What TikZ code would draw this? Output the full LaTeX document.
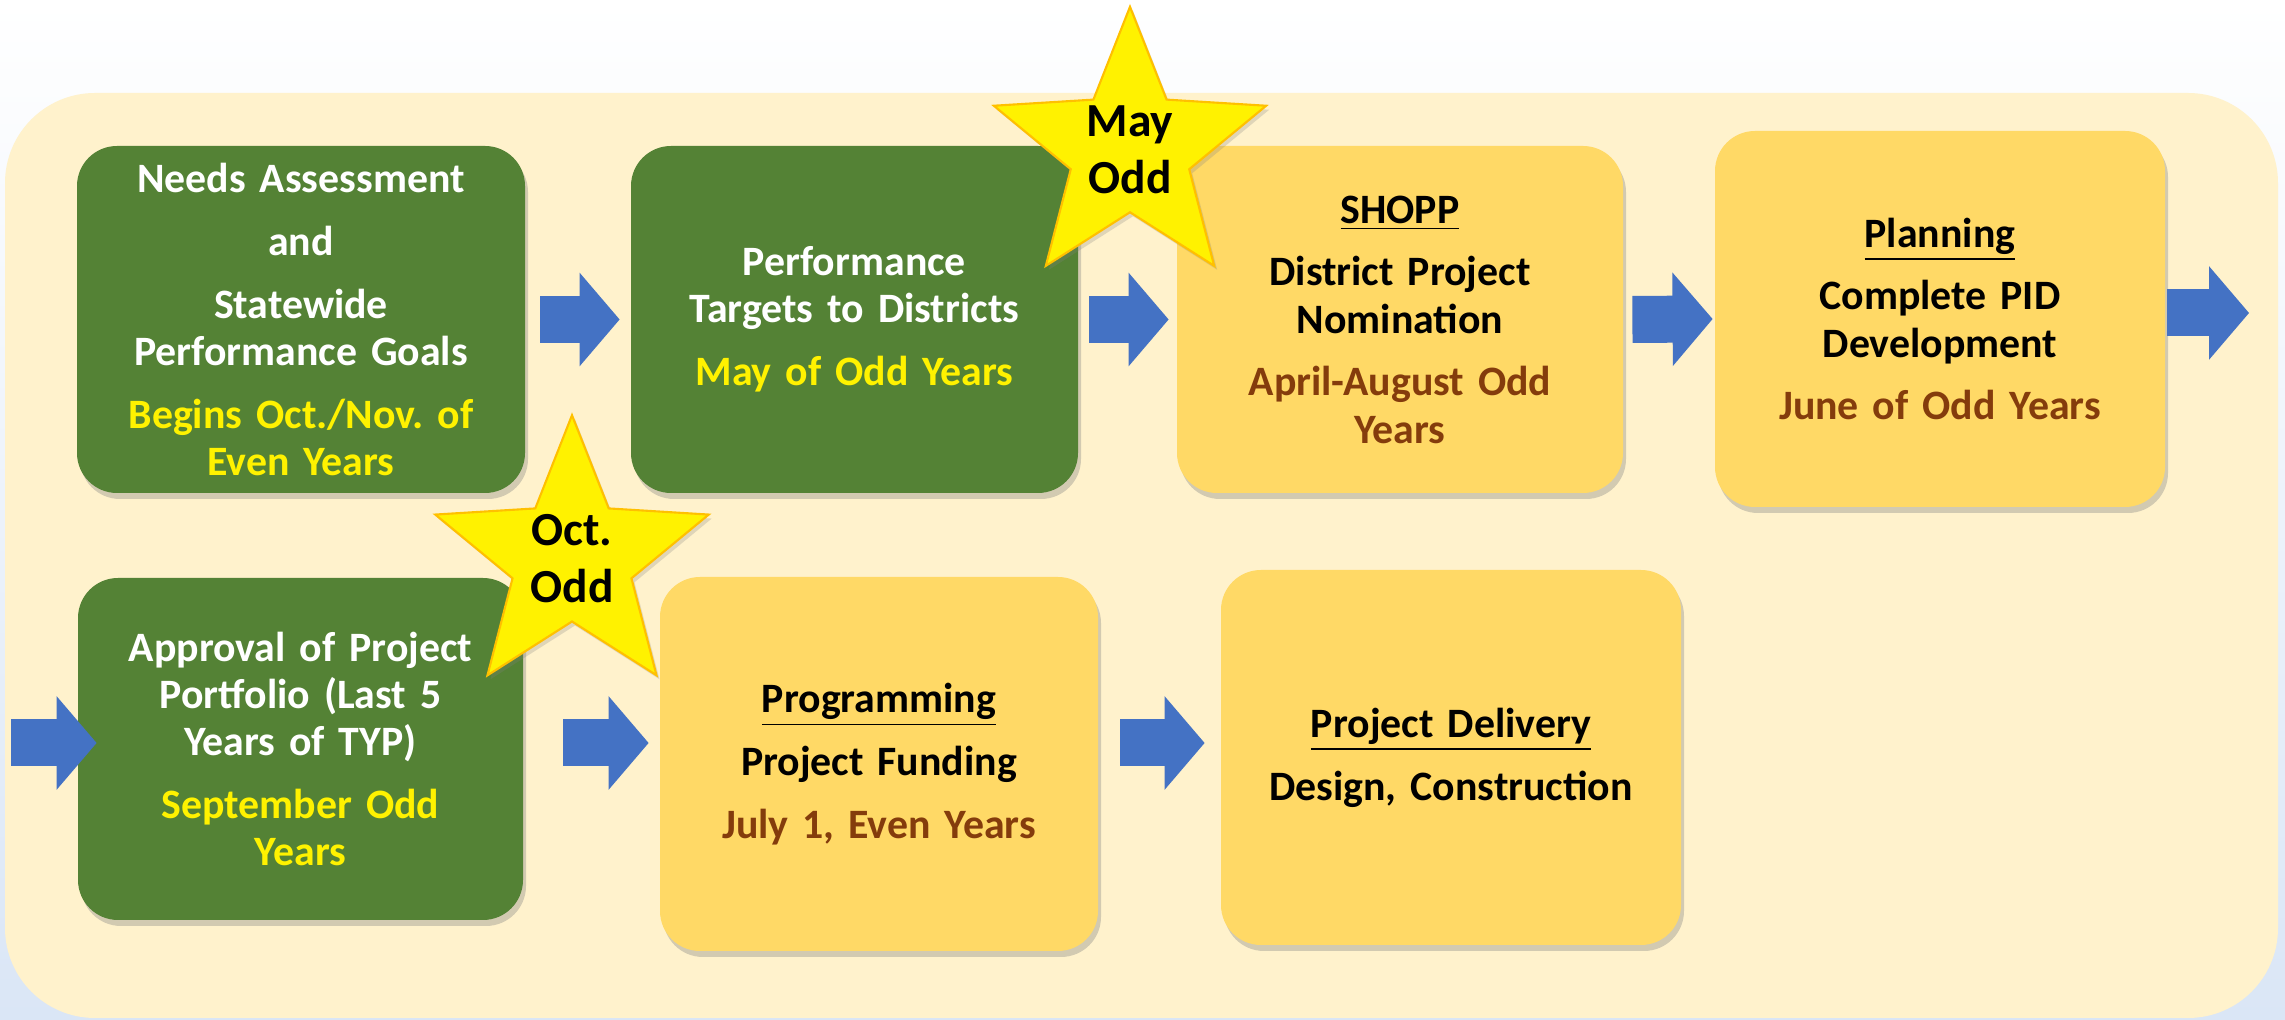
\documentclass[tikz,border=0pt]{standalone}
\usepackage{fontspec}
\setmainfont{Carlito}
\usetikzlibrary{arrows.meta,positioning,shapes,shadows}

\definecolor{boxgreen}{RGB}{84,130,53}
\definecolor{boxgold}{RGB}{255,217,102}
\definecolor{cream}{RGB}{255,242,204}
\definecolor{flowblue}{RGB}{68,114,196}
\definecolor{datebrown}{RGB}{132,60,12}
\definecolor{staredge}{RGB}{255,192,0}
\definecolor{bgblue}{RGB}{218,230,246}

\begin{document}
\frenchspacing
\begin{tikzpicture}[thick]

		\tikzstyle{task}=[rectangle, rounded corners=0.4cm, fill=boxgreen, text=white, text width=4.05cm, align=center, font=\bfseries\fontsize{11.9}{13.4}\selectfont, minimum width=4.48cm, minimum height=3.47cm, drop shadow={shadow xshift=0.03cm, shadow yshift=-0.06cm, opacity=0.35}]
		\tikzstyle{stage}=[task, fill=boxgold, text=black]
		\tikzstyle{milestone}=[star, star points=5, star point ratio=2.3, fill=yellow, draw=staredge, line width=0.6pt, minimum size=2.86cm, inner sep=0pt, align=center, font=\bfseries\fontsize{13.5}{16.2}\selectfont, drop shadow={shadow xshift=0.03cm, shadow yshift=-0.04cm, opacity=0.25}]
		\tikzstyle{flow}=[flowblue, line width=0.47cm, -{Triangle[width=0.93cm, length=0.40cm, line width=1pt]}]

		\useasboundingbox (0,0) rectangle (22.85,-10.20);
		\shade[top color=white, bottom color=bgblue] (0,0) rectangle (22.85,-10.20);
		\fill[cream, rounded corners=0.9cm] (0.05,-0.93) rectangle (22.78,-10.18);

		% first row
		\node[task] (needs) at (3.01,-3.195) {Needs Assessment\\[4.5pt] and\\[4.5pt] Statewide\\ Performance Goals\\[4.5pt] \color{yellow}Begins Oct./Nov. of\\ Even Years};
		\node[task, minimum width=4.47cm] (targets) at (8.545,-3.195) {Performance\\ Targets to Districts\\[4.5pt] \color{yellow}May of Odd Years};
		\node[stage, minimum width=4.46cm] (shopp) at (14.00,-3.195) {\underline{SHOPP}\\[4.5pt] District Project\\ Nomination\\[4.5pt] \color{datebrown}April-August Odd\\ Years};
		\node[stage, minimum width=4.50cm, minimum height=3.76cm] (planning) at (19.40,-3.19) {\underline{Planning}\\[4.5pt] Complete PID\\ Development\\[4.5pt] \color{datebrown}June of Odd Years};

		% second row
		\node[task, minimum width=4.45cm, minimum height=3.42cm] (approval) at (3.005,-7.49) {Approval of Project\\ Portfolio (Last 5\\ Years of TYP)\\[4.5pt] \color{yellow}September Odd\\ Years};
		\node[stage, minimum width=4.38cm, minimum height=3.74cm] (programming) at (8.79,-7.64) {\underline{Programming}\\[4.5pt] Project Funding\\[4.5pt] \color{datebrown}July 1, Even Years};
		\node[stage, minimum width=4.60cm, minimum height=3.75cm] (delivery) at (14.51,-7.575) {\underline{Project Delivery}\\[4.5pt] Design, Construction};

		\coordinate (out) at (22.49,-3.13);
		\coordinate (in) at (0.11,-7.43);

		% flow arrows
		\draw[flow, shorten <=0.14cm, shorten >=0.10cm] (needs.east) -- (targets.west);
		\draw[flow, shorten <=0.10cm, shorten >=0.07cm] (targets.east) -- (shopp.west);
		\draw[flow, shorten <=0.08cm, shorten >=0.01cm] (shopp.east) -- (planning.west);
		\draw[flow, shorten <=0.01cm] (planning.east |- out) -- (out);
		\draw[flow, shorten >=-0.20cm] (in) -- (approval.west |- in);
		\draw[flow, shorten <=0.39cm, shorten >=0.10cm] (approval.east |- in) -- (programming.west |- in);
		\draw[flow, shorten <=0.21cm, shorten >=0.15cm] (programming.east |- in) -- (delivery.west |- in);

		% milestones
		\node[milestone] (may) at (11.30,-1.50) {May\\Odd};
		\node[milestone] (oct) at (5.72,-5.59) {Oct.\\Odd};

\end{tikzpicture}
\end{document}
